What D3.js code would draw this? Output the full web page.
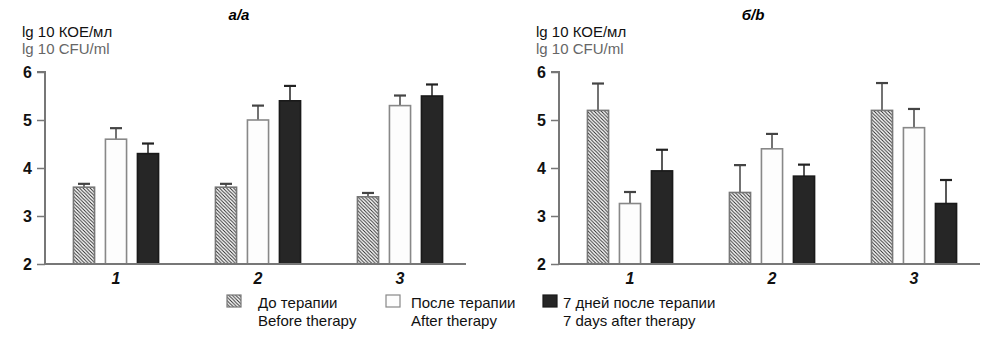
<!DOCTYPE html>
<html><head><meta charset="utf-8">
<script src="https://cdn.jsdelivr.net/npm/d3@7"></script>
<style>
html,body{margin:0;padding:0;background:#fff;}
svg{display:block;font-family:"Liberation Sans",Arial,sans-serif;}
</style></head>
<body>
<script>
const categories = ["1", "2", "3"];
const seriesRu = ["До терапии", "После терапии", "7 дней после терапии"];
const seriesEn = ["Before therapy", "After therapy", "7 days after therapy"];
const yTicks = [2, 3, 4, 5, 6];

const panelATitle = "а/a";
const panelA_before = [3.6, 3.6, 3.4];
const panelA_beforeErr = [0.07, 0.07, 0.08];
const panelA_after = [4.6, 5.0, 5.3];
const panelA_afterErr = [0.23, 0.3, 0.21];
const panelA_7days = [4.3, 5.4, 5.5];
const panelA_7daysErr = [0.21, 0.31, 0.24];

const panelBTitle = "б/b";
const panelB_before = [5.2, 3.49, 5.2];
const panelB_beforeErr = [0.56, 0.57, 0.57];
const panelB_after = [3.26, 4.4, 4.84];
const panelB_afterErr = [0.24, 0.31, 0.39];
const panelB_7days = [3.94, 3.83, 3.26];
const panelB_7daysErr = [0.44, 0.24, 0.49];

const W = 992, H = 344;
const svg = d3.select("body").append("svg").attr("width", W).attr("height", H);

const defs = svg.append("defs");
const pat = defs.append("pattern").attr("id", "hatch")
  .attr("patternUnits", "userSpaceOnUse").attr("width", 3.5).attr("height", 3.5);
pat.append("rect").attr("width", 3.5).attr("height", 3.5).attr("fill", "#fff");
pat.append("path").attr("d", "M0,0 L3.5,3.5 M-1,2.5 L1,4.5 M2.5,-1 L4.5,1")
  .attr("stroke", "#2a2a2a").attr("stroke-width", 1);

const fills = ["url(#hatch)", "#fdfdfd", "#262626"];
const strokes = ["#777", "#888", "#1a1a1a"];
const errColors = ["#444", "#444", "#222"];

const y = d3.scaleLinear().domain([2, 6]).range([264, 72]);

function panel(x0, title, vals, errs) {
  const g = svg.append("g");
  const x = d3.scaleBand().domain(categories).range([x0, x0 + 426]).paddingInner(0).paddingOuter(0);
  const sub = d3.scaleBand().domain(d3.range(3)).range([-48, 48]).paddingInner(0.34).paddingOuter(0.17);

  g.append("text").attr("x", x0 + 194).attr("y", 20).attr("text-anchor", "middle")
    .attr("font-size", 15).attr("font-weight", "bold").attr("font-style", "italic").text(title);
  g.append("text").attr("x", x0 - 23).attr("y", 37).attr("font-size", 15).attr("fill", "#111").text("lg 10 КОЕ/мл");
  g.append("text").attr("x", x0 - 23).attr("y", 54).attr("font-size", 15).attr("fill", "#666").text("lg 10 CFU/ml");

  categories.forEach((c, i) => {
    const cx = x(c) + x.bandwidth() / 2;
    for (let s = 0; s < 3; s++) {
      const v = vals[s][i], e = errs[s][i];
      const bx = cx + sub(s);
      const bw = sub.bandwidth();
      const mid = bx + bw / 2;
      g.append("line").attr("x1", mid).attr("x2", mid).attr("y1", y(v)).attr("y2", y(v + e))
        .attr("stroke", errColors[s]).attr("stroke-width", 1.5);
      g.append("line").attr("x1", mid - 6).attr("x2", mid + 6).attr("y1", y(v + e)).attr("y2", y(v + e))
        .attr("stroke", errColors[s]).attr("stroke-width", 2.2);
      g.append("rect").attr("x", bx).attr("y", y(v)).attr("width", bw).attr("height", y(2) - y(v))
        .attr("fill", fills[s]).attr("stroke", strokes[s]).attr("stroke-width", 1.6);
    }
  });

  const ya = g.append("g").attr("transform", `translate(${x0},0)`)
    .call(d3.axisLeft(y).tickValues(yTicks).tickFormat(d3.format("d")).tickSize(8).tickPadding(5));
  ya.select(".domain").attr("stroke", "#777").attr("stroke-width", 2).attr("d", `M-8,${y(6)}H0V${y(2)}`);
  ya.selectAll(".tick line").attr("stroke", "#777").attr("stroke-width", 1.5);
  ya.selectAll(".tick text").attr("font-size", 16).attr("font-weight", "bold").attr("fill", "#111")
    .attr("font-family", "Liberation Sans, Arial, sans-serif");

  const xa = g.append("g").attr("transform", `translate(0,${y(2)})`)
    .call(d3.axisBottom(x).tickSize(0).tickPadding(9));
  xa.select(".domain").attr("stroke", "#777").attr("stroke-width", 2).attr("d", `M${x0},0H${x0 + 421}`);
  xa.selectAll(".tick text").attr("font-size", 16).attr("font-weight", "bold").attr("font-style", "italic")
    .attr("fill", "#111").attr("font-family", "Liberation Sans, Arial, sans-serif");
}

panel(45, panelATitle, [panelA_before, panelA_after, panelA_7days], [panelA_beforeErr, panelA_afterErr, panelA_7daysErr]);
panel(559, panelBTitle, [panelB_before, panelB_after, panelB_7days], [panelB_beforeErr, panelB_afterErr, panelB_7daysErr]);

const legX = [227, 386, 543];
const legTextDx = [31, 25, 20];
const lg = svg.append("g");
seriesRu.forEach((s, i) => {
  lg.append("rect").attr("x", legX[i]).attr("y", 295).attr("width", 14).attr("height", 12)
    .attr("fill", fills[i]).attr("stroke", strokes[i]).attr("stroke-width", 1.2);
  lg.append("text").attr("x", legX[i] + legTextDx[i]).attr("y", 308).attr("font-size", 15).attr("fill", "#111").text(s);
  lg.append("text").attr("x", legX[i] + legTextDx[i]).attr("y", 326).attr("font-size", 15).attr("fill", "#111").text(seriesEn[i]);
});
</script>
</body></html>
